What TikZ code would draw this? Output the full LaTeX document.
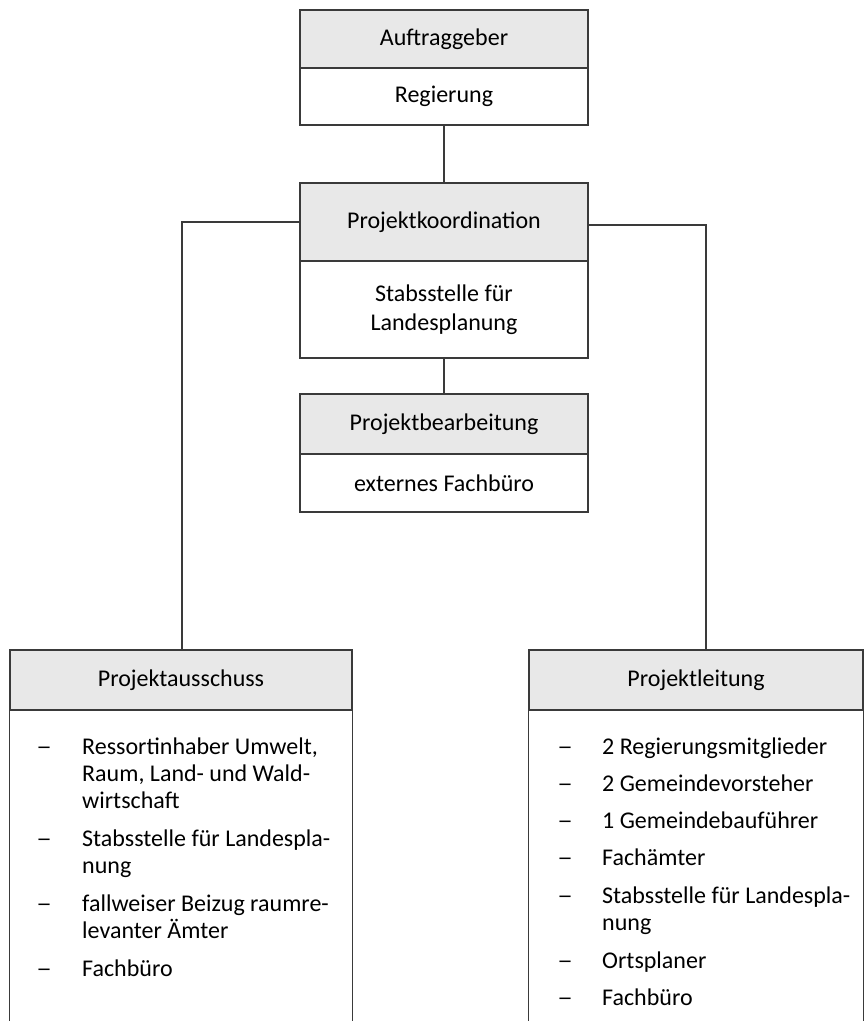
\documentclass[tikz,border=0pt]{standalone}
\usepackage{fontspec}
\setmainfont{Carlito}
\definecolor{hdrgray}{HTML}{E8E8E8}
\definecolor{edge}{HTML}{3A3A3A}
\tikzset{
  boxbase/.style={draw=edge, line width=1.2pt, rectangle, inner sep=0pt, font=\fontsize{24}{29}\selectfont, text=black},
  hdr/.style={boxbase, fill=hdrgray},
  bdy/.style={boxbase, fill=white, align=center},
  link/.style={draw=edge, line width=1.2pt},
  dashmark/.style={anchor=base west, inner sep=0pt, font=\fontsize{24}{29}\selectfont, text=black, xscale=1.3, transform shape},
  itemtext/.style={anchor=base west, inner sep=0pt, font=\fontsize{24}{29}\selectfont, text=black},
}
\begin{document}
\begin{tikzpicture}[x=1pt, y=-1pt]
\useasboundingbox (0,0) rectangle (864,1021);
% top box
\node[hdr, minimum width=288pt, minimum height=58pt] (auftr) at (444,39) {Auftraggeber};
\node[bdy, minimum width=288pt, minimum height=57pt] (regier) at (444,96.5) {Regierung};
% coordination
\node[hdr, minimum width=288pt, minimum height=78pt] (koord) at (444,222) {\raisebox{3pt}{Projektkoordination}};
\node[bdy, minimum width=288pt, minimum height=97pt] (stabs) at (444,309.5) {Stabsstelle für\\Landesplanung};
% bearbeitung
\node[hdr, minimum width=288pt, minimum height=60pt] (bearb) at (444,424) {Projektbearbeitung};
\node[bdy, minimum width=288pt, minimum height=58pt] (extern) at (444,483) {externes Fachbüro};
% left bottom box
\node[hdr, minimum width=342pt, minimum height=60pt] (aussch) at (181,680) {Projektausschuss};
\draw[link] (aussch.south west) -- ++(0,330) (aussch.south east) -- ++(0,330);
% right bottom box
\node[hdr, minimum width=334pt, minimum height=60pt] (leit) at (696,680) {Projektleitung};
\draw[link] (leit.south west) -- ++(0,330) (leit.south east) -- ++(0,330);
% connectors
\draw[link] (regier.south) -- (koord.north);
\draw[link] (stabs.south) -- (bearb.north);
\coordinate (lc) at (182,222);
\coordinate (rc) at (706,225);
\draw[link] (koord.west |- lc) -- (lc) -- (lc |- aussch.north);
\draw[link] (koord.east |- rc) -- (rc) -- (rc |- leit.north);
% left list
\node[dashmark] (ld1) at (36,754) {–};
\node[itemtext] (li1a) at (82,754) {Ressortinhaber Umwelt,};
\node[itemtext] (li1b) at (82,781) {Raum, Land- und Wald-};
\node[itemtext] (li1c) at (82,808) {wirtschaft};
\node[dashmark] (ld2) at (36,846) {–};
\node[itemtext] (li2a) at (82,846) {Stabsstelle für Landespla-};
\node[itemtext] (li2b) at (82,873) {nung};
\node[dashmark] (ld3) at (36,911) {–};
\node[itemtext] (li3a) at (82,911) {fallweiser Beizug raumre-};
\node[itemtext] (li3b) at (82,938) {levanter Ämter};
\node[dashmark] (ld4) at (36,976) {–};
\node[itemtext] (li4) at (82,976) {Fachbüro};
% right list
\node[dashmark] (rd1) at (557,754) {–};
\node[itemtext] (ri1) at (602,754) {2 Regierungsmitglieder};
\node[dashmark] (rd2) at (557,791) {–};
\node[itemtext] (ri2) at (602,791) {2 Gemeindevorsteher};
\node[dashmark] (rd3) at (557,828) {–};
\node[itemtext] (ri3) at (602,828) {1 Gemeindebauführer};
\node[dashmark] (rd4) at (557,865) {–};
\node[itemtext] (ri4) at (602,865) {Fachämter};
\node[dashmark] (rd5) at (557,903) {–};
\node[itemtext] (ri5a) at (602,903) {Stabsstelle für Landespla-};
\node[itemtext] (ri5b) at (602,930) {nung};
\node[dashmark] (rd6) at (557,968) {–};
\node[itemtext] (ri6) at (602,968) {Ortsplaner};
\node[dashmark] (rd7) at (557,1005) {–};
\node[itemtext] (ri7) at (602,1005) {Fachbüro};
\end{tikzpicture}
\end{document}
